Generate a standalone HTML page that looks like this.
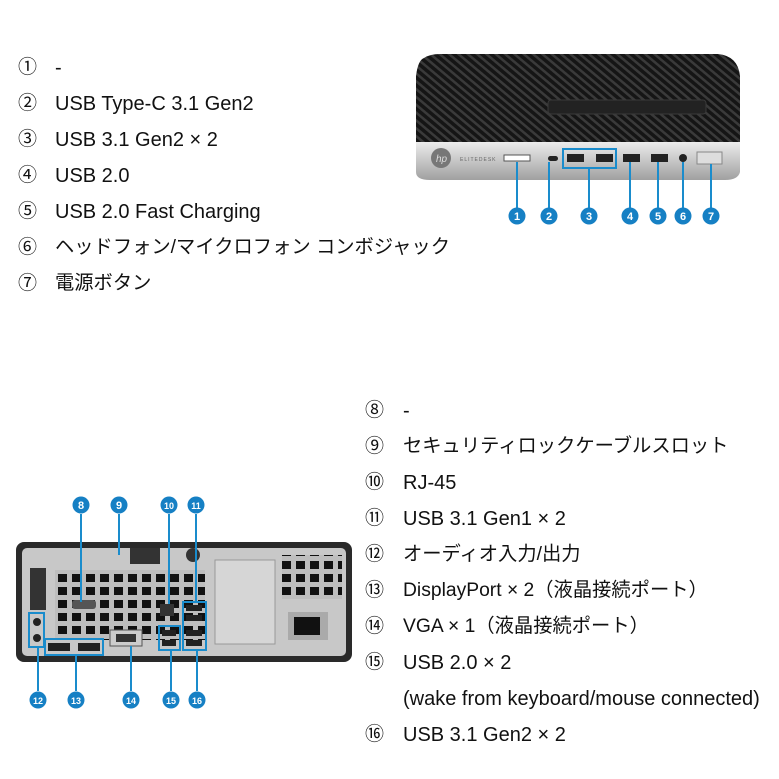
<!DOCTYPE html>
<html><head><meta charset="utf-8"><style>
body{margin:0;width:779px;height:779px;background:#fff;position:relative;overflow:hidden;font-family:"Liberation Sans","Noto Sans CJK JP",sans-serif;color:#111;}
.r{position:absolute;font-size:20px;line-height:22px;white-space:nowrap;}
.j{font-size:19.3px;}
.n{position:absolute;font-size:19px;line-height:22px;}
svg{position:absolute;left:0;top:0;}
</style></head><body>
<svg width="779" height="779" viewBox="0 0 779 779">
<defs>
<pattern id="str" width="6" height="6" patternUnits="userSpaceOnUse" patternTransform="rotate(-50)">
<rect width="6" height="6" fill="#151515"/><rect width="2.5" height="6" fill="#3a3a3a"/></pattern>
<linearGradient id="sil" x1="0" y1="0" x2="0" y2="1"><stop offset="0" stop-color="#ececec"/><stop offset="1" stop-color="#a0a0a0"/></linearGradient>
<pattern id="grid" width="14" height="13" patternUnits="userSpaceOnUse"><rect width="14" height="13" fill="#bdbdbd"/><rect x="2" y="2" width="9" height="8" fill="#111"/></pattern>
</defs>
<path d="M424 58 Q430 54 440 54 L718 54 Q738 56 740 76 L740 142 L416 142 L416 76 Q418 60 424 58Z" fill="url(#str)"/>
<path d="M416 142 L740 142 L740 172 Q738 180 725 180 L430 180 Q416 180 416 172Z" fill="url(#sil)"/>
<rect x="548" y="100" width="158" height="14" rx="3" fill="#222" stroke="#3a3a3a"/>
<circle cx="441" cy="158" r="10" fill="#777"/>
<text x="436" y="162" font-size="10" fill="#ddd" font-style="italic">hp</text>
<text x="460" y="161" font-size="5" fill="#666" letter-spacing="1">ELITEDESK</text>
<rect x="504" y="155" width="26" height="6" fill="#fff" stroke="#555"/>
<rect x="548" y="156" width="10" height="5" rx="2.5" fill="#222"/>
<rect x="563" y="149" width="53" height="19" fill="none" stroke="#1a8ccc" stroke-width="2"/>
<rect x="567" y="154" width="17" height="8" fill="#222"/><rect x="596" y="154" width="17" height="8" fill="#222"/>
<rect x="623" y="154" width="17" height="8" fill="#222"/><rect x="651" y="154" width="17" height="8" fill="#222"/>
<circle cx="683" cy="158" r="4" fill="#222"/>
<rect x="697" y="152" width="25" height="12" fill="#ddd" stroke="#888"/>
<g stroke="#1a8ccc" stroke-width="2">
<line x1="517" y1="162" x2="517" y2="210"/><line x1="549" y1="162" x2="549" y2="210"/><line x1="589" y1="168" x2="589" y2="210"/>
<line x1="630" y1="162" x2="630" y2="210"/><line x1="658" y1="162" x2="658" y2="210"/><line x1="683" y1="162" x2="683" y2="210"/><line x1="711" y1="164" x2="711" y2="210"/></g>
<g fill="#1680c4">
<circle cx="517" cy="216" r="8.5"/><circle cx="549" cy="216" r="8.5"/><circle cx="589" cy="216" r="8.5"/><circle cx="630" cy="216" r="8.5"/><circle cx="658" cy="216" r="8.5"/><circle cx="683" cy="216" r="8.5"/><circle cx="711" cy="216" r="8.5"/>
<circle cx="81" cy="505" r="8.5"/><circle cx="119" cy="505" r="8.5"/><circle cx="169" cy="505" r="8.5"/><circle cx="196" cy="505" r="8.5"/>
<circle cx="38" cy="700" r="8.5"/><circle cx="76" cy="700" r="8.5"/><circle cx="131" cy="700" r="8.5"/><circle cx="171" cy="700" r="8.5"/><circle cx="197" cy="700" r="8.5"/></g>
<g fill="#fff" font-size="11" font-weight="bold" text-anchor="middle">
<text x="517" y="220">1</text><text x="549" y="220">2</text><text x="589" y="220">3</text><text x="630" y="220">4</text><text x="658" y="220">5</text><text x="683" y="220">6</text><text x="711" y="220">7</text>
<text x="81" y="509">8</text><text x="119" y="509">9</text><text x="169" y="509" font-size="9">10</text><text x="196" y="509" font-size="9">11</text>
<text x="38" y="704" font-size="9">12</text><text x="76" y="704" font-size="9">13</text><text x="131" y="704" font-size="9">14</text><text x="171" y="704" font-size="9">15</text><text x="197" y="704" font-size="9">16</text></g>
<rect x="16" y="542" width="336" height="120" rx="8" fill="#2a2a2a"/>
<rect x="22" y="548" width="324" height="108" rx="5" fill="#c8c8c8"/>
<rect x="55" y="570" width="150" height="70" fill="url(#grid)"/>
<rect x="30" y="568" width="16" height="42" fill="#333"/>
<rect x="130" y="548" width="30" height="16" fill="#333"/>
<circle cx="193" cy="555" r="7" fill="#333"/>
<rect x="215" y="560" width="60" height="84" fill="#d6d6d6" stroke="#999"/>
<rect x="282" y="555" width="60" height="44" fill="url(#grid)"/>
<rect x="288" y="612" width="40" height="28" fill="#aaa"/><rect x="294" y="617" width="26" height="18" fill="#111"/>
<rect x="72" y="600" width="24" height="9" rx="3" fill="#555"/>
<rect x="110" y="630" width="32" height="16" fill="#ccc" stroke="#555"/><rect x="116" y="634" width="20" height="8" fill="#333"/>
<rect x="160" y="604" width="14" height="12" fill="#333"/>
<g fill="#222"><rect x="162" y="630" width="14" height="6"/><rect x="162" y="640" width="14" height="6"/>
<rect x="186" y="605" width="16" height="6"/><rect x="186" y="615" width="16" height="6"/><rect x="186" y="630" width="16" height="6"/><rect x="186" y="640" width="16" height="6"/>
<rect x="48" y="643" width="22" height="8"/><rect x="78" y="643" width="22" height="8"/>
<circle cx="37" cy="622" r="4"/><circle cx="37" cy="638" r="4"/></g>
<g fill="none" stroke="#1a8ccc" stroke-width="2">
<rect x="29" y="613" width="15" height="34"/><rect x="45" y="639" width="58" height="16"/>
<rect x="159" y="626" width="21" height="24"/><rect x="183" y="602" width="23" height="48"/>
<line x1="81" y1="514" x2="81" y2="602"/><line x1="119" y1="514" x2="119" y2="555"/><line x1="169" y1="514" x2="169" y2="604"/><line x1="196" y1="514" x2="196" y2="602"/>
<line x1="38" y1="647" x2="38" y2="691"/><line x1="76" y1="655" x2="76" y2="691"/><line x1="131" y1="646" x2="131" y2="691"/><line x1="171" y1="650" x2="171" y2="691"/><line x1="197" y1="650" x2="197" y2="691"/></g>
</svg>
<div class="n" style="left:18px;top:57px">①</div><div class="r" style="left:55px;top:57px">-</div>
<div class="n" style="left:18px;top:93px">②</div><div class="r" style="left:55px;top:93px">USB Type-C 3.1 Gen2</div>
<div class="n" style="left:18px;top:129px">③</div><div class="r" style="left:55px;top:129px">USB 3.1 Gen2 × 2</div>
<div class="n" style="left:18px;top:165px">④</div><div class="r" style="left:55px;top:165px">USB 2.0</div>
<div class="n" style="left:18px;top:201px">⑤</div><div class="r" style="left:55px;top:201px">USB 2.0 Fast Charging</div>
<div class="n" style="left:18px;top:237px">⑥</div><div class="r j" style="left:55px;top:237px">ヘッドフォン/マイクロフォン コンボジャック</div>
<div class="n" style="left:18px;top:273px">⑦</div><div class="r j" style="left:55px;top:273px">電源ボタン</div>
<div class="n" style="left:365px;top:400px">⑧</div><div class="r" style="left:403px;top:400px">-</div>
<div class="n" style="left:365px;top:436px">⑨</div><div class="r j" style="left:403px;top:436px">セキュリティロックケーブルスロット</div>
<div class="n" style="left:365px;top:472px">⑩</div><div class="r" style="left:403px;top:472px">RJ-45</div>
<div class="n" style="left:365px;top:508px">⑪</div><div class="r" style="left:403px;top:508px">USB 3.1 Gen1 × 2</div>
<div class="n" style="left:365px;top:544px">⑫</div><div class="r j" style="left:403px;top:544px">オーディオ入力/出力</div>
<div class="n" style="left:365px;top:580px">⑬</div><div class="r j" style="left:403px;top:580px">DisplayPort × 2（液晶接続ポート）</div>
<div class="n" style="left:365px;top:616px">⑭</div><div class="r j" style="left:403px;top:616px">VGA × 1（液晶接続ポート）</div>
<div class="n" style="left:365px;top:652px">⑮</div><div class="r" style="left:403px;top:652px">USB 2.0 × 2</div>
<div class="r" style="left:403px;top:688px">(wake from keyboard/mouse connected)</div>
<div class="n" style="left:365px;top:724px">⑯</div><div class="r" style="left:403px;top:724px">USB 3.1 Gen2 × 2</div>
</body></html>
